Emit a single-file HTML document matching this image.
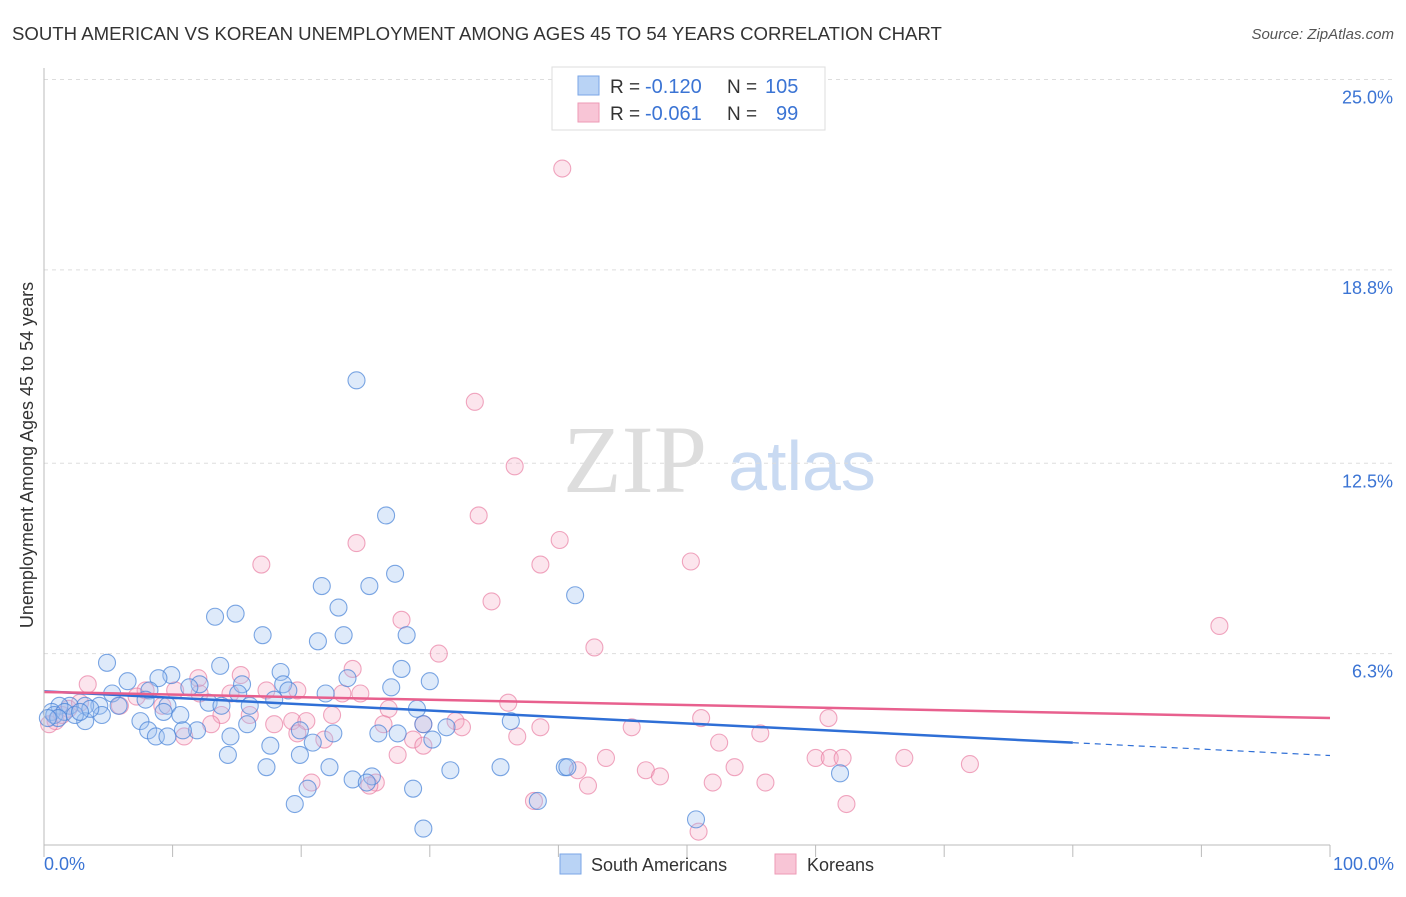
<!DOCTYPE html>
<html><head><meta charset="utf-8"><style>
body{margin:0;background:#fff;font-family:"Liberation Sans",sans-serif;}
</style></head><body>
<svg id="c" width="1406" height="892" font-family="Liberation Sans, sans-serif">
<text x="12" y="40" font-size="18.6" fill="#333">SOUTH AMERICAN VS KOREAN UNEMPLOYMENT AMONG AGES 45 TO 54 YEARS CORRELATION CHART</text>
<text x="1394" y="39" font-size="15" fill="#555" text-anchor="end" font-style="italic">Source: ZipAtlas.com</text>
<text x="33" y="455" font-size="18" fill="#333" text-anchor="middle" transform="rotate(-90 33 455)">Unemployment Among Ages 45 to 54 years</text>
<text x="635" y="492" font-size="96" fill="#ddd" text-anchor="middle" style="font-family:'Liberation Serif',serif">ZIP</text>
<text x="802" y="490" font-size="70" fill="#c9daf2" text-anchor="middle">atlas</text>
<g id="grid"></g><g id="dots"></g><g id="lines"></g>
<line x1="44" y1="68" x2="44" y2="845" stroke="#bbb"/>
<line x1="44" y1="845" x2="1330" y2="845" stroke="#bbb"/>
<text x="44" y="870" font-size="18" fill="#3b74d4">0.0%</text>
<text x="1394" y="870" font-size="18" fill="#3b74d4" text-anchor="end">100.0%</text>
<g>
<rect x="552" y="67" width="273" height="63" fill="#fff" stroke="#ddd"/>
<rect x="578" y="76" width="21" height="19" fill="#b9d3f5" stroke="#7aa6e6"/>
<rect x="578" y="103" width="21" height="19" fill="#f8c5d6" stroke="#ee9ab6"/>
<text x="610" y="93" font-size="19" fill="#333">R =</text>
<text x="645" y="93" font-size="20" fill="#3b74d4">-0.120</text>
<text x="727" y="93" font-size="19" fill="#333">N =</text>
<text x="765" y="93" font-size="20" fill="#3b74d4">105</text>
<text x="610" y="120" font-size="19" fill="#333">R =</text>
<text x="645" y="120" font-size="20" fill="#3b74d4">-0.061</text>
<text x="727" y="120" font-size="19" fill="#333">N =</text>
<text x="776" y="120" font-size="20" fill="#3b74d4">99</text>
</g>
<rect x="560" y="854" width="21" height="20" fill="#b9d3f5" stroke="#7aa6e6"/>
<text x="591" y="871" font-size="18" fill="#333">South Americans</text>
<rect x="775" y="854" width="21" height="20" fill="#f8c5d6" stroke="#ee9ab6"/>
<text x="807" y="871" font-size="18" fill="#333">Koreans</text>
</svg>
<script>
const yTicks=[6.3,12.5,18.8,25.0];
const xTicks=[0,10,20,30,40,50,60,70,80,90,100];
const blueX=[24.3,26.6,27.3,21.6,25.3,41.3,22.9,13.3,14.9,17.0,23.3,21.3,28.2,4.9,13.7,27.8,18.4,9.9,8.9,6.5,30.0,23.6,18.6,15.4,12.1,11.3,19.0,21.9,27.0,5.3,8.2,15.1,17.9,12.8,13.8,16.0,9.6,7.9,5.8,4.3,3.2,2.0,1.2,0.6,29.0,9.3,4.5,7.5,10.6,3.2,8.1,15.8,36.3,31.3,29.5,11.9,10.8,8.7,9.6,19.9,22.5,26.0,27.5,14.5,30.2,17.6,20.9,14.3,19.9,17.3,22.2,31.6,35.5,40.5,24.0,25.5,25.1,20.5,28.7,19.5,38.4,50.7,29.5,61.9,40.7,0.8,1.6,2.4,3.6,1.1,0.3,2.8];
const blueY=[15.2,10.8,8.9,8.5,8.5,8.2,7.8,7.5,7.6,6.9,6.9,6.7,6.9,6.0,5.9,5.8,5.7,5.6,5.5,5.4,5.4,5.5,5.3,5.3,5.3,5.2,5.1,5.0,5.2,5.0,5.1,5.0,4.8,4.7,4.6,4.6,4.6,4.8,4.6,4.6,4.6,4.6,4.6,4.4,4.5,4.4,4.3,4.1,4.3,4.1,3.8,4.0,4.1,3.9,4.0,3.8,3.8,3.6,3.6,3.8,3.7,3.7,3.7,3.6,3.5,3.3,3.4,3.0,3.0,2.6,2.6,2.5,2.6,2.6,2.2,2.3,2.1,1.9,1.9,1.4,1.5,0.9,0.6,2.4,2.6,4.3,4.4,4.3,4.5,4.2,4.2,4.4];
const pinkX=[40.3,33.5,36.6,33.8,40.1,24.3,16.9,38.6,50.3,34.8,27.8,91.4,42.8,30.7,24.0,15.3,12.0,3.4,17.3,19.7,23.2,24.6,7.9,10.2,14.5,36.1,26.8,22.4,16.0,13.8,51.1,61.0,17.9,19.3,20.4,29.5,32.0,32.5,38.6,45.7,26.4,21.8,19.7,28.7,36.8,52.5,55.7,29.5,27.5,43.7,60.0,61.1,62.1,66.9,72.0,53.7,41.5,46.8,47.9,52.0,56.1,42.3,25.8,25.3,20.8,38.1,62.4,50.9,13.0,10.9,1.9,0.9,2.8,5.9,7.2,9.2,12.1,0.4,1.4];
const pinkY=[22.1,14.5,12.4,10.8,10.0,9.9,9.2,9.2,9.3,8.0,7.4,7.2,6.5,6.3,5.8,5.6,5.5,5.3,5.1,5.1,5.0,5.0,5.1,5.1,5.0,4.7,4.5,4.3,4.3,4.3,4.2,4.2,4.0,4.1,4.1,4.0,4.1,3.9,3.9,3.9,4.0,3.5,3.7,3.5,3.6,3.4,3.7,3.3,3.0,2.9,2.9,2.9,2.9,2.9,2.7,2.6,2.5,2.5,2.3,2.1,2.1,2.0,2.1,2.0,2.1,1.5,1.4,0.5,4.0,3.6,4.5,4.1,4.7,4.6,4.9,4.6,5.0,4.0,4.3];
const blueTrend=[5.07,-0.0209];
const pinkTrend=[5.05,-0.0085];
const sx=v=>44+v*12.86, sy=v=>847-v*30.7;
const NS="http://www.w3.org/2000/svg";
function mk(tag,attrs,parent){const e=document.createElementNS(NS,tag);for(const k in attrs)e.setAttribute(k,attrs[k]);document.getElementById(parent).appendChild(e);return e;}
yTicks.forEach(t=>{
  const g=mk('line',{x1:44,x2:1394,y1:sy(t),y2:sy(t),stroke:'#ddd','stroke-dasharray':'4,4'},'grid');
  
  
  const l=mk('text',{x:1393,y:sy(t)+24,'font-size':18,fill:'#3b74d4','text-anchor':'end'},'grid');
  l.textContent=t.toFixed(1)+'%';
  
  
});
xTicks.forEach(t=>{
  const l=mk('line',{x1:sx(t),x2:sx(t),y1:845,y2:857,stroke:'#bbb'},'grid');
  
  
});
function dots(xs,ys,fill,stroke,name){xs.forEach((x,i)=>{
  const c=mk('circle',{cx:sx(x),cy:sy(ys[i]),r:8.5,fill:fill,stroke:stroke,'stroke-width':1.1},'dots');
  
  
});}
dots(pinkX,pinkY,'rgba(244,170,196,0.3)','rgba(232,120,158,0.65)','korean-point');
dots(blueX,blueY,'rgba(160,196,240,0.35)','rgba(70,130,215,0.7)','south-american-point');
const b1=mk('line',{x1:sx(0),y1:sy(blueTrend[0]),x2:sx(80),y2:sy(blueTrend[0]+80*blueTrend[1]),stroke:'#2f6fd6','stroke-width':2.5},'lines');


const b2=mk('line',{x1:sx(80),y1:sy(blueTrend[0]+80*blueTrend[1]),x2:sx(100),y2:sy(blueTrend[0]+100*blueTrend[1]),stroke:'#2f6fd6','stroke-width':1.2,'stroke-dasharray':'6,5'},'lines');


const p1=mk('line',{x1:sx(0),y1:sy(pinkTrend[0]),x2:sx(100),y2:sy(pinkTrend[0]+100*pinkTrend[1]),stroke:'#e8608e','stroke-width':2.5},'lines');


</script>
</body></html>
